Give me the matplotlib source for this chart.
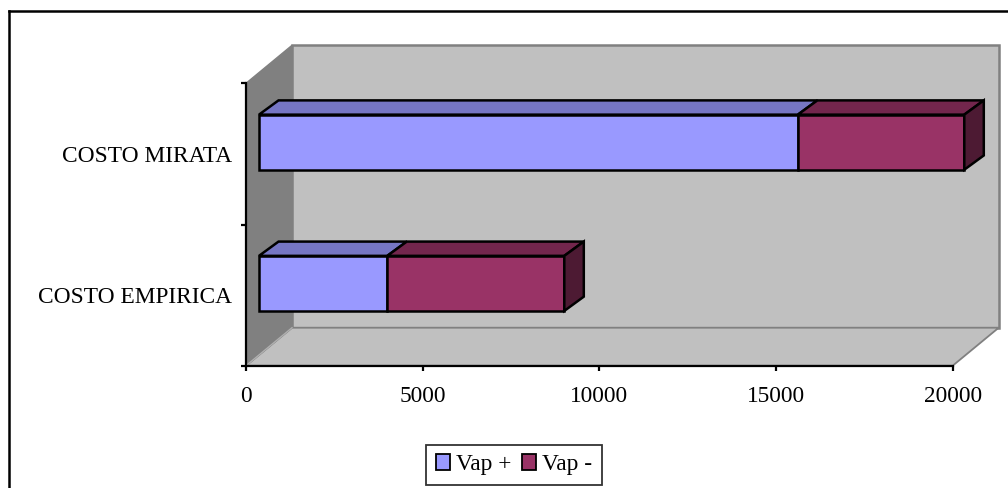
import matplotlib
matplotlib.use("Agg")
import matplotlib.pyplot as plt
from matplotlib.patches import Polygon, Patch
from matplotlib.lines import Line2D

plt.rcParams['font.family'] = ['Liberation Serif', 'DejaVu Serif']

# data
categories = ['COSTO EMPIRICA', 'COSTO MIRATA']
vap_plus = [3630, 15250]
vap_minus = [5010, 4710]
series = ['Vap +', 'Vap -']
xticks = [0, 5000, 10000, 15000, 20000]

# colours (front, top, side) per series
front = ['#9999FF', '#993366']
top = ['#7676C4', '#73264D']
side = ['#5A5A99', '#4D1A33']

# oblique projection of the 3d box, in data units
XMAX = 20000
WALL_DX, WALL_DY = 1302, 0.269     # depth of the floor / walls
BAR_FX, BAR_FY = 368, 0.083        # front face of the bars sits a bit inside
BAR_DX, BAR_DY = 552, 0.101        # depth of the bars
BAR_H = 0.39
FS = 16.8

fig = plt.figure(figsize=(10.08, 4.88), dpi=100)
W, H = 1008, 488
ax = fig.add_axes([246 / W, (H - 365.7) / H, (952.7 - 246) / W, (365.7 - 83.3) / H])
ax.set_facecolor('none')
ax.set_xlim(0, XMAX)
ax.set_ylim(0, len(categories))


def poly(pts, fc, ec, lw, z):
    ax.add_patch(Polygon(pts, closed=True, facecolor=fc, edgecolor=ec,
                         linewidth=lw, zorder=z, clip_on=False, joinstyle='miter'))


ny = len(categories)
# back wall, floor, left wall
poly([(WALL_DX, WALL_DY), (XMAX + WALL_DX, WALL_DY), (XMAX + WALL_DX, ny + WALL_DY),
      (WALL_DX, ny + WALL_DY)], '#C0C0C0', '#808080', 1.8, 0.5)
poly([(0, 0), (XMAX, 0), (XMAX + WALL_DX, WALL_DY), (WALL_DX, WALL_DY)],
     '#C0C0C0', '#808080', 1.3, 0.6)
poly([(0, 0), (WALL_DX, WALL_DY), (WALL_DX, ny + WALL_DY), (0, ny)],
     '#808080', '#808080', 1.0, 0.7)
ax.plot([0, WALL_DX], [0, WALL_DY], color='#B0B0B0', lw=1.0, zorder=0.8, clip_on=False)

# stacked 3d bars
for i, cat in enumerate(categories):
    y0 = i + 0.5 - BAR_H / 2 + BAR_FY
    y1 = y0 + BAR_H
    left = 0
    vals = [vap_plus[i], vap_minus[i]]
    for k, v in enumerate(vals):
        x0 = left + BAR_FX
        x1 = left + v + BAR_FX
        poly([(x0, y0), (x1, y0), (x1, y1), (x0, y1)], front[k], 'black', 1.8, 3)
        poly([(x0, y1), (x1, y1), (x1 + BAR_DX, y1 + BAR_DY), (x0 + BAR_DX, y1 + BAR_DY)],
             top[k], 'black', 1.8, 3)
        left += v
    xe = left + BAR_FX
    poly([(xe, y0), (xe, y1), (xe + BAR_DX, y1 + BAR_DY), (xe + BAR_DX, y0 + BAR_DY)],
         side[1], 'black', 1.8, 3)

# axes
for s in ['top', 'right']:
    ax.spines[s].set_visible(False)
for s in ['left', 'bottom']:
    ax.spines[s].set_linewidth(1.6)
    ax.spines[s].set_color('black')
    ax.spines[s].set_zorder(2.5)

ax.set_xticks(xticks)
ax.set_xticklabels([str(t) for t in xticks])
ax.tick_params(axis='x', direction='out', length=3.5, width=1.6, pad=11, labelsize=FS)
ax.set_yticks(range(ny + 1))
ax.set_yticklabels([''] * (ny + 1))
ax.tick_params(axis='y', which='major', direction='out', length=3.5, width=1.6)
ax.set_yticks([i + 0.5 for i in range(ny)], minor=True)
ax.set_yticklabels(categories, minor=True)
ax.tick_params(axis='y', which='minor', length=0, pad=10, labelsize=FS)

# legend
handles = [Patch(facecolor=front[k], edgecolor='black', linewidth=1.3) for k in range(2)]
leg = fig.legend(handles, series, loc='center', bbox_to_anchor=(514 / W, 1 - 464.7 / H),
                 ncol=2, fontsize=FS, frameon=True, fancybox=False, handlelength=0.62,
                 handleheight=0.62, handletextpad=0.25, columnspacing=0.45,
                 borderpad=0.4, borderaxespad=0)
leg.get_frame().set_edgecolor('black')
leg.get_frame().set_linewidth(1.3)

# chart area border (left and top edges visible)
fig.add_artist(Line2D([9 / W, 9 / W], [0, 1 - 11 / H], color='black', lw=1.8,
                      transform=fig.transFigure))
fig.add_artist(Line2D([9 / W, 1], [1 - 11 / H, 1 - 11 / H], color='black', lw=1.8,
                      transform=fig.transFigure))

fig.savefig('out.png', dpi=100)
